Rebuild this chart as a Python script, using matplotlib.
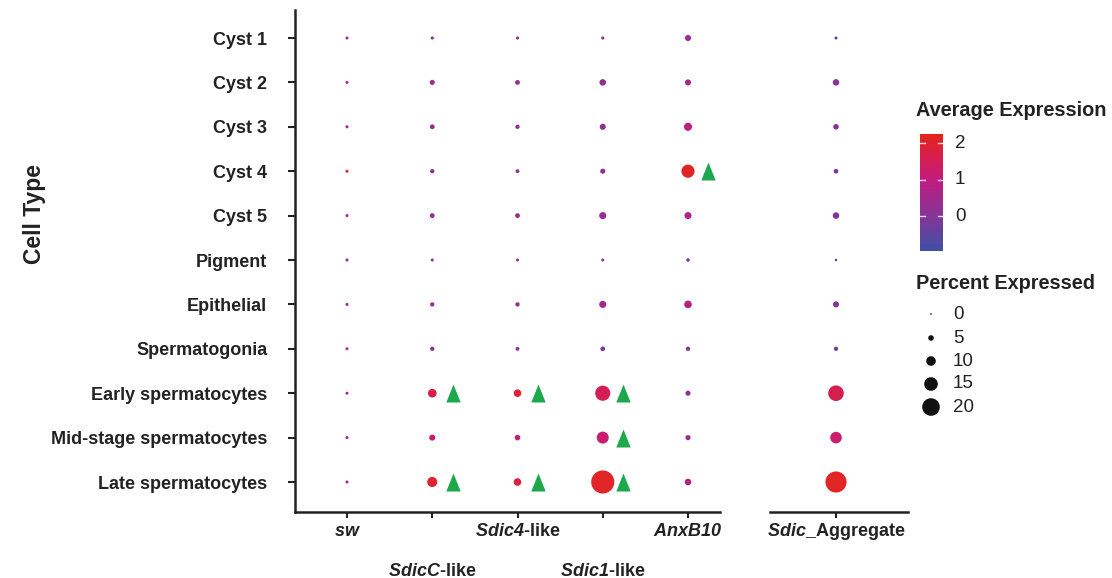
import numpy as np
import matplotlib
matplotlib.use("Agg")
import matplotlib.pyplot as plt
from matplotlib.colors import LinearSegmentedColormap, Normalize

plt.rcParams.update({
    "font.family": ["Liberation Sans", "DejaVu Sans"],
    "mathtext.fontset": "custom",
    "mathtext.it": "Liberation Sans:italic:bold",
    "mathtext.rm": "Liberation Sans:italic:bold",
    "mathtext.bf": "Liberation Sans:italic:bold",
})

# ---- data ---------------------------------------------------------------
cell_types = ["Cyst 1", "Cyst 2", "Cyst 3", "Cyst 4", "Cyst 5", "Pigment",
              "Epithelial", "Spermatogonia", "Early spermatocytes",
              "Mid-stage spermatocytes", "Late spermatocytes"]
genes = ["sw", "SdicC-like", "Sdic4-like", "Sdic1-like", "AnxB10"]
gene_labels = [r"$\mathrm{sw}$", r"$\mathrm{SdicC}$-like", r"$\mathrm{Sdic4}$-like",
               r"$\mathrm{Sdic1}$-like", r"$\mathrm{AnxB10}$"]
aggregate_label = r"$\mathrm{Sdic}$_Aggregate"

# percent of cells expressing (rows = cell types; cols = sw, SdicC, Sdic4, Sdic1, AnxB10)
pct_genes = np.array([
    [1.8, 2.0, 2.0, 2.0, 5.6],
    [1.8, 4.4, 4.0, 6.2, 5.6],
    [1.8, 4.0, 3.4, 5.6, 8.1],
    [1.8, 3.4, 2.8, 4.4, 14.4],
    [1.8, 4.0, 4.0, 6.9, 6.9],
    [1.8, 1.8, 1.8, 1.8, 2.4],
    [1.8, 3.4, 3.4, 6.9, 7.5],
    [1.8, 3.4, 2.8, 3.8, 3.4],
    [1.8, 8.8, 7.5, 16.9, 4.4],
    [1.8, 5.6, 5.0, 13.0, 4.4],
    [1.8, 10.6, 7.5, 26.9, 6.2],
])
# average scaled expression
avg_genes = np.array([
    [0.4, 0.2, 0.2, 0.2, 0.4],
    [0.4, 0.3, 0.4, 0.2, 0.4],
    [0.4, 0.3, 0.3, 0.2, 0.9],
    [2.0, 0.2, 0.2, 0.2, 2.1],
    [0.4, 0.3, 0.5, 0.3, 0.8],
    [0.4, -0.1, 0.1, 0.0, -0.2],
    [0.4, 0.3, 0.4, 0.4, 0.8],
    [0.4, 0.1, 0.2, 0.0, -0.1],
    [0.3, 1.7, 1.9, 1.5, 0.3],
    [0.5, 1.1, 1.1, 1.2, 0.4],
    [0.4, 2.0, 1.8, 2.1, 0.7],
])
pct_aggregate = [1.8, 6.2, 5.0, 3.8, 6.2, 1.2, 5.6, 3.4, 17.5, 12.5, 24.4]
avg_aggregate = [-0.3, 0.0, 0.0, -0.1, 0.0, -0.6, 0.0, -0.3, 1.6, 1.2, 2.1]

# significant enrichment markers: (cell type index, gene index)
significant = [(8, 1), (10, 1), (8, 2), (10, 2), (8, 3), (9, 3), (10, 3), (3, 4)]

legend_pcts = [0, 5, 10, 15, 20]
cbar_ticks = [0, 1, 2]

# ---- styling --------------------------------------------------------------
W, H = 1112, 578
DPI = 100
vmin, vmax = -0.96, 2.25
cmap = LinearSegmentedColormap.from_list("expr", [
    ((-0.96 - vmin) / (vmax - vmin), "#3f51a6"),
    ((0.0 - vmin) / (vmax - vmin), "#853598"),
    ((1.0 - vmin) / (vmax - vmin), "#c31c7f"),
    ((1.7 - vmin) / (vmax - vmin), "#da1f48"),
    ((2.25 - vmin) / (vmax - vmin), "#e3261b"),
])
norm = Normalize(vmin, vmax)
GREEN = "#1ea84e"
AX_COLOR = "#222222"
LABEL_SIZE = 13


def dot_size(p):
    d_px = 1.6 + 0.8 * np.asarray(p, dtype=float)
    return (d_px * 72.0 / DPI) ** 2


tri = [(-0.8, -1.0), (0.8, -1.0), (0.0, 1.0)]
TRI_SIZE = (18 * 72.0 / DPI) ** 2

fig = plt.figure(figsize=(W / DPI, H / DPI), dpi=DPI)


def px_axes(x0, y0, x1, y1):
    return fig.add_axes([x0 / W, 1 - y1 / H, (x1 - x0) / W, (y1 - y0) / H])


def px_pt(px):
    return px * 72.0 / DPI


col_step = 85.25
row_step = 44.4
y_top, y_bot = 10, 512
ylim = ((y_bot - 38) / row_step, (y_top - 38) / row_step)


def style_axes(ax):
    for s in ["top", "right"]:
        ax.spines[s].set_visible(False)
    for s in ["left", "bottom"]:
        ax.spines[s].set_linewidth(1.8)
        ax.spines[s].set_color(AX_COLOR)
    ax.tick_params(axis="both", colors=AX_COLOR, width=1.5)
    ax.tick_params(axis="x", length=4)
    ax.tick_params(axis="y", length=5)
    ax.set_ylim(*ylim)


# main dot plot
ax = px_axes(295, y_top, 720, y_bot)
style_axes(ax)
ax.set_xlim((295 - 347) / col_step, (720 - 347) / col_step)
rows = np.arange(len(cell_types))
for j in range(len(genes)):
    ax.scatter(np.full(len(rows), j), rows, s=dot_size(pct_genes[:, j]),
               c=avg_genes[:, j], cmap=cmap, norm=norm, linewidths=0, zorder=3)
for r, j in significant:
    ax.scatter([j + 0.24], [r], marker=tri, s=TRI_SIZE, color=GREEN,
               linewidths=0, zorder=3)
ax.set_yticks(rows)
ax.set_yticklabels(cell_types, fontsize=LABEL_SIZE, fontweight="bold",
                   color=AX_COLOR)
ax.tick_params(axis="y", pad=15)
ax.set_xticks(range(len(genes)))
ax.set_xticklabels([])
for j, lab in enumerate(gene_labels):
    off = -px_pt(20) if j % 2 == 0 else -px_pt(59)
    ax.annotate(lab, xy=(j, 0), xycoords=ax.get_xaxis_transform(),
                xytext=(0, off), textcoords="offset points",
                ha="center", va="center", fontsize=LABEL_SIZE,
                fontweight="bold", color=AX_COLOR)

# aggregate panel
ax2 = px_axes(770, y_top, 908, y_bot)
style_axes(ax2)
ax2.spines["left"].set_visible(False)
ax2.set_xlim((770 - 836) / col_step, (908 - 836) / col_step)
ax2.scatter(np.zeros(len(rows)), rows, s=dot_size(pct_aggregate),
            c=avg_aggregate, cmap=cmap, norm=norm, linewidths=0, zorder=3)
ax2.set_yticks([])
ax2.set_xticks([0])
ax2.set_xticklabels([])
ax2.annotate(aggregate_label, xy=(0, 0), xycoords=ax2.get_xaxis_transform(),
             xytext=(0, -px_pt(20)), textcoords="offset points", ha="center",
             va="center", fontsize=LABEL_SIZE, fontweight="bold",
             color=AX_COLOR)

# y axis title
fig.text(34 / W, 1 - 214 / H, "Cell Type", rotation=90, ha="center",
         va="center", fontsize=16.5, fontweight="bold", color=AX_COLOR)

# colour legend
fig.text(916 / W, 1 - 111 / H, "Average Expression", ha="left", va="center",
         fontsize=14.3, fontweight="bold", color=AX_COLOR)
cax = px_axes(920, 134, 943, 251)
grad = np.linspace(vmin, vmax, 256).reshape(-1, 1)
cax.imshow(grad, aspect="auto", cmap=cmap, norm=norm, origin="lower",
           extent=(0, 1, vmin, vmax))
cax.set_xlim(0, 1)
cax.set_ylim(vmin, vmax)
cax.set_xticks([])
cax.set_yticks([])
for s in cax.spines.values():
    s.set_visible(False)
for t in cbar_ticks:
    cax.plot([0, 0.2], [t, t], color="white", lw=1, alpha=0.8)
    cax.plot([0.8, 1], [t, t], color="white", lw=1, alpha=0.8)
    fig.text(955 / W, 1 - (134 + (vmax - t) / (vmax - vmin) * 117) / H,
             str(t), ha="left", va="center", fontsize=13.5, color=AX_COLOR)

# size legend
fig.text(916 / W, 1 - 283 / H, "Percent Expressed", ha="left", va="center",
         fontsize=14.3, fontweight="bold", color=AX_COLOR)
lax = px_axes(905, 300, 1000, 420)
lax.set_xlim(905, 1000)
lax.set_ylim(420, 300)
lax.axis("off")
leg_y = [314, 338, 361, 384, 407]
lax.scatter([931] * len(legend_pcts), leg_y, s=dot_size(legend_pcts),
            color="#111111", linewidths=0)
for p, yy in zip(legend_pcts, leg_y):
    lax.text(953, yy, str(p), ha="left", va="center", fontsize=13.5,
             color=AX_COLOR)

fig.savefig("out.png", dpi=DPI)
